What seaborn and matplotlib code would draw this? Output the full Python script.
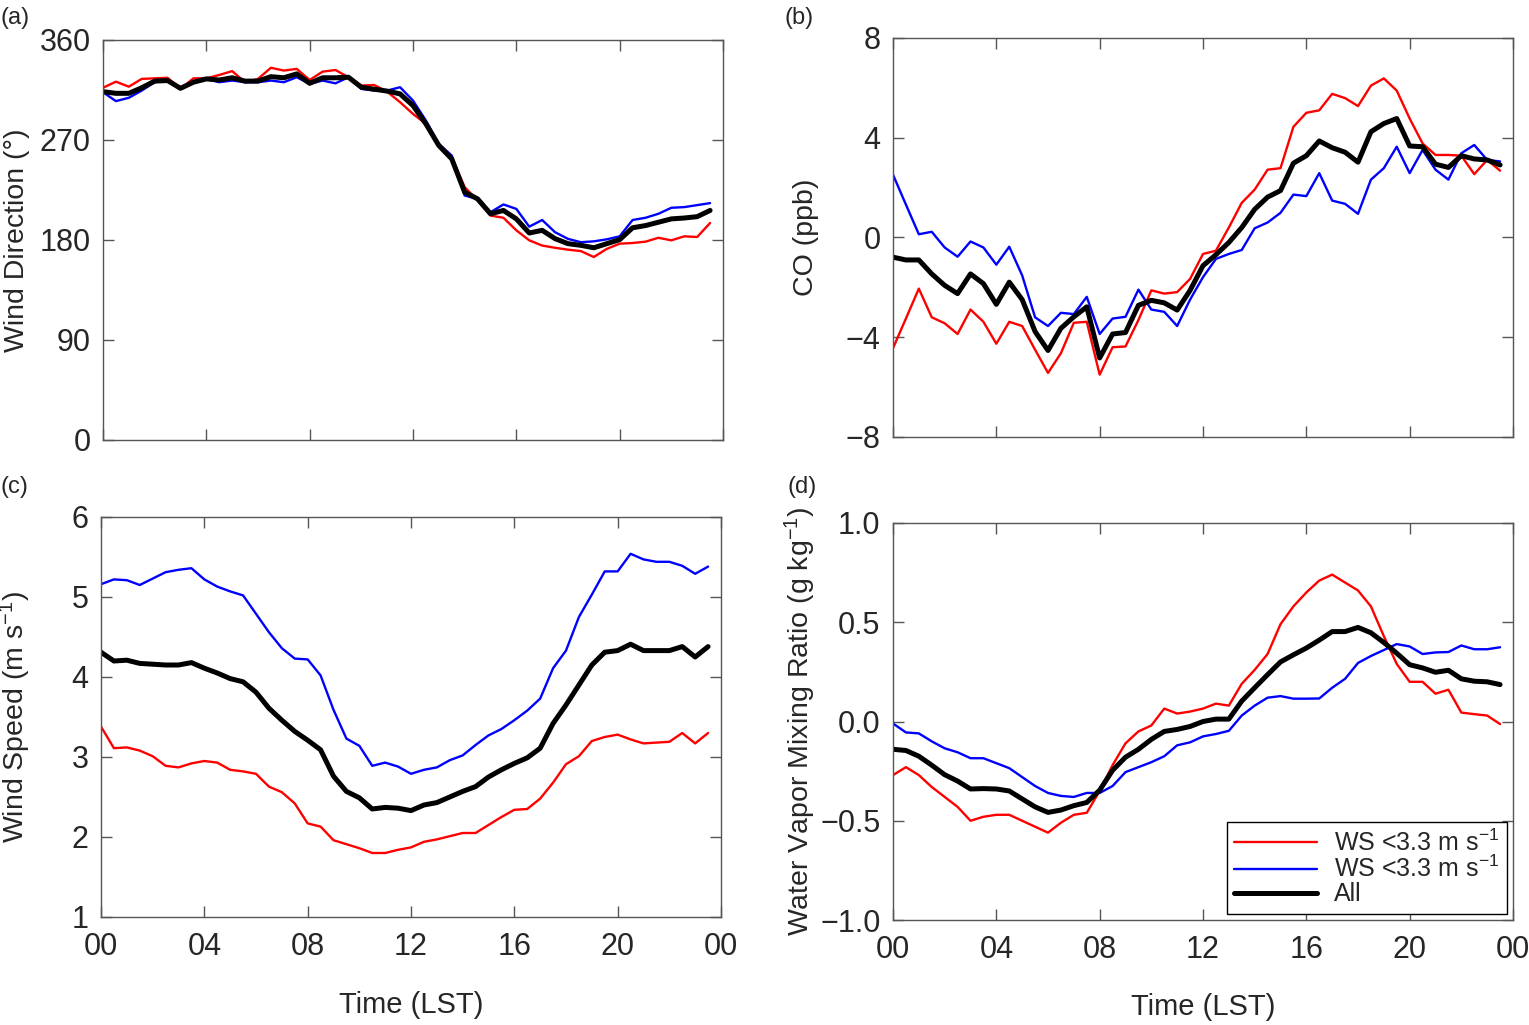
import numpy as np
import pandas as pd
import matplotlib
matplotlib.use('Agg')
import matplotlib.pyplot as plt
import seaborn as sns

# half-hourly time axis (LST)
hours = np.arange(48) * 0.5

# (a) wind direction (deg)
wd_red = [317, 322.5, 318, 325, 325.5, 326, 316, 325.5, 325.5, 328.5, 332, 322,
          325, 335, 332.5, 334, 324, 331.5, 333, 326.5, 319, 319.5, 313.5, 304,
          293.5, 284.5, 266.5, 254.5, 227.6, 215.6, 202, 200, 188.7, 179.7, 175, 173,
          171.3, 170, 164.7, 172, 176.7, 177.3, 178.5, 182, 179.7, 183.3, 182.7, 195.3]
wd_blue = [313, 305, 308, 314.5, 322, 323.5, 316, 322, 325, 322, 323.5, 322,
           322, 323.5, 322, 326.5, 320.5, 323.5, 321, 326.5, 316, 314.5, 314.5, 317.5,
           305.5, 287.5, 266.5, 256, 220, 217, 205, 212, 208, 192, 198, 187,
           181, 178, 178.8, 180.6, 183.3, 198, 200, 203.6, 209, 209.6, 211.4, 213.2]
wd_all = [313.5, 312, 312, 317, 323, 323.5, 316.5, 322, 325, 324, 326, 323,
          323, 327, 326, 329.5, 321, 326, 326, 326.5, 317.5, 315.7, 314, 311.5,
          301, 284.5, 265, 253, 223, 217, 203.6, 206.6, 199, 186.3, 188.7, 181.2,
          176.7, 175.2, 173, 176.7, 180.3, 191, 193, 196, 199, 199.8, 201, 206.6]

# (b) CO anomaly (ppb)
co_red = [-4.44, -3.25, -2.05, -3.2, -3.44, -3.87, -2.89, -3.38, -4.26, -3.38, -3.55, -4.5,
          -5.43, -4.64, -3.42, -3.38, -5.5, -4.4, -4.37, -3.31, -2.12, -2.25, -2.19, -1.66,
          -0.66, -0.53, 0.4, 1.39, 1.92, 2.72, 2.78, 4.44, 5.0, 5.1, 5.76, 5.59,
          5.27, 6.09, 6.38, 5.89, 4.77, 3.77, 3.31, 3.31, 3.28, 2.54, 3.11, 2.68]
co_blue = [2.52, 1.32, 0.13, 0.23, -0.4, -0.77, -0.16, -0.4, -1.09, -0.37, -1.52, -3.2,
           -3.55, -3.02, -3.07, -2.38, -3.87, -3.25, -3.18, -2.09, -2.89, -2.98, -3.55, -2.49,
           -1.59, -0.86, -0.66, -0.5, 0.37, 0.6, 0.99, 1.72, 1.66, 2.58, 1.48, 1.35,
           0.95, 2.32, 2.78, 3.64, 2.58, 3.51, 2.72, 2.32, 3.38, 3.71, 3.11, 3.05]
co_all = [-0.79, -0.9, -0.9, -1.46, -1.92, -2.25, -1.46, -1.85, -2.68, -1.79, -2.49, -3.77,
          -4.53, -3.64, -3.18, -2.78, -4.83, -3.87, -3.81, -2.72, -2.52, -2.62, -2.91, -2.12,
          -1.13, -0.69, -0.2, 0.4, 1.13, 1.62, 1.88, 2.98, 3.28, 3.87, 3.6, 3.42,
          3.02, 4.24, 4.57, 4.77, 3.67, 3.64, 2.94, 2.81, 3.28, 3.15, 3.11, 2.91]

# (c) wind speed (m/s)
ws_red = [3.38, 3.11, 3.12, 3.08, 3.01, 2.89, 2.87, 2.92, 2.95, 2.93, 2.84, 2.82,
          2.79, 2.63, 2.56, 2.42, 2.17, 2.13, 1.96, 1.91, 1.86, 1.8, 1.8, 1.84,
          1.87, 1.94, 1.97, 2.01, 2.05, 2.05, 2.15, 2.25, 2.34, 2.35, 2.48, 2.68,
          2.91, 3.01, 3.2, 3.25, 3.28, 3.22, 3.17, 3.18, 3.19, 3.3, 3.17, 3.3]
ws_blue = [5.16, 5.22, 5.21, 5.15, 5.23, 5.31, 5.34, 5.36, 5.22, 5.13, 5.07, 5.02,
           4.79, 4.56, 4.36, 4.23, 4.22, 4.02, 3.59, 3.23, 3.14, 2.89, 2.93, 2.88,
           2.79, 2.84, 2.87, 2.96, 3.02, 3.15, 3.27, 3.35, 3.46, 3.58, 3.73, 4.11,
           4.33, 4.75, 5.03, 5.32, 5.32, 5.54, 5.47, 5.44, 5.44, 5.39, 5.29, 5.38]
ws_all = [4.31, 4.2, 4.21, 4.17, 4.16, 4.15, 4.15, 4.18, 4.11, 4.05, 3.98, 3.94,
          3.81, 3.61, 3.46, 3.32, 3.21, 3.09, 2.76, 2.57, 2.49, 2.35, 2.37, 2.36,
          2.33, 2.4, 2.43, 2.5, 2.57, 2.63, 2.75, 2.84, 2.92, 2.99, 3.11, 3.42,
          3.65, 3.9, 4.15, 4.31, 4.33, 4.41, 4.33, 4.33, 4.33, 4.38, 4.25, 4.38]

# (d) water vapor mixing ratio anomaly (g/kg)
wv_red = [-0.27, -0.23, -0.27, -0.33, -0.38, -0.43, -0.5, -0.48, -0.47, -0.47, -0.5, -0.53,
          -0.56, -0.51, -0.47, -0.46, -0.35, -0.22, -0.11, -0.05, -0.02, 0.065, 0.04, 0.05,
          0.065, 0.09, 0.08, 0.19, 0.26, 0.34, 0.49, 0.58, 0.65, 0.71, 0.74, 0.70,
          0.66, 0.58, 0.43, 0.29, 0.2, 0.2, 0.14, 0.16, 0.045, 0.037, 0.03, -0.013]
wv_blue = [-0.01, -0.055, -0.06, -0.1, -0.135, -0.155, -0.185, -0.185, -0.21, -0.235, -0.28, -0.325,
           -0.36, -0.375, -0.38, -0.36, -0.36, -0.325, -0.255, -0.23, -0.205, -0.175, -0.12, -0.105,
           -0.075, -0.063, -0.047, 0.03, 0.08, 0.12, 0.128, 0.115, 0.115, 0.116, 0.17, 0.215,
           0.295, 0.33, 0.36, 0.39, 0.378, 0.34, 0.348, 0.35, 0.383, 0.364, 0.364, 0.374]
wv_all = [-0.14, -0.146, -0.175, -0.22, -0.268, -0.3, -0.34, -0.338, -0.34, -0.35, -0.39, -0.43,
          -0.458, -0.446, -0.424, -0.408, -0.346, -0.246, -0.18, -0.14, -0.09, -0.05, -0.04, -0.025,
          0.0, 0.012, 0.012, 0.103, 0.17, 0.236, 0.30, 0.336, 0.37, 0.41, 0.453, 0.453,
          0.474, 0.447, 0.398, 0.344, 0.286, 0.27, 0.248, 0.258, 0.215, 0.203, 0.2, 0.186]

x_ticks = [0, 4, 8, 12, 16, 20, 24]
x_ticklabels = ['00', '04', '08', '12', '16', '20', '00']
legend_labels = ['WS <3.3 m s$^{-1}$', 'WS <3.3 m s$^{-1}$', 'All']

sns.set_style('ticks')
plt.rcParams['font.family'] = ['Liberation Sans', 'DejaVu Sans']
plt.rcParams['mathtext.default'] = 'regular'

fig = plt.figure(figsize=(15.29, 10.25), dpi=100)
W, H = 1529, 1025

def make_ax(l, r, t, b):
    return fig.add_axes([l / W, 1 - b / H, (r - l) / W, (b - t) / H])

ax_a = make_ax(103, 723, 40, 440)
ax_b = make_ax(893, 1513, 38, 437)
ax_c = make_ax(101, 721, 517, 917)
ax_d = make_ax(893, 1513, 523, 920)

panels = [
    (ax_a, wd_red, wd_blue, wd_all, (0, 360), [0, 90, 180, 270, 360], 'Wind Direction (°)', -0.117),
    (ax_b, co_red, co_blue, co_all, (-8, 8), [-8, -4, 0, 4, 8], 'CO (ppb)', -0.12),
    (ax_c, ws_red, ws_blue, ws_all, (1, 6), [1, 2, 3, 4, 5, 6], 'Wind Speed (m s$^{-1}$)', -0.11),
    (ax_d, wv_red, wv_blue, wv_all, (-1, 1), [-1.0, -0.5, 0.0, 0.5, 1.0],
     'Water Vapor Mixing Ratio (g kg$^{-1}$)', -0.121),
]

for i, (ax, red, blue, black, ylim, yticks, ylab, lx) in enumerate(panels):
    sns.lineplot(x=hours, y=red, color='#ff0000', lw=1.7, ax=ax, label=legend_labels[0])
    sns.lineplot(x=hours, y=blue, color='#0000ff', lw=1.7, ax=ax, label=legend_labels[1])
    sns.lineplot(x=hours, y=black, color='black', lw=3.6, ax=ax, label=legend_labels[2])
    ax.set_xlim(0, 24)
    ax.set_ylim(*ylim)
    ax.set_xticks(x_ticks)
    ax.set_yticks(yticks)
    if ax is ax_d:
        ax.set_yticklabels(['\u22121.0', '\u22120.5', '0.0', '0.5', '1.0'])
    ax.tick_params(direction='in', top=True, right=True, length=8, width=1,
                   color='#555555', labelsize=22)
    ax.tick_params(axis='y', pad=9)
    ax.tick_params(axis='x', pad=11)
    for sp in ax.spines.values():
        sp.set_color('#555555')
        sp.set_linewidth(1)
    ax.set_ylabel(ylab, fontsize=20.5)
    ax.yaxis.set_label_coords(lx, 0.5)
    if i >= 2:
        ax.set_xticklabels(x_ticklabels)
        ax.set_xlabel('Time (LST)', fontsize=21)
        ax.xaxis.set_label_coords(0.5, -0.185)
    else:
        ax.set_xticklabels([])
        ax.set_xlabel('')
    if ax is ax_d:
        leg = ax.legend(loc='lower right', fontsize=18, frameon=True, fancybox=False,
                        edgecolor='black', framealpha=1, handlelength=3.3,
                        labelspacing=0.0, borderpad=0.3, handletextpad=0.7,
                        borderaxespad=0.25)
        leg.get_frame().set_linewidth(1)
    else:
        ax.get_legend().remove()

for lab, px, py in [('(a)', 0, 18), ('(b)', 785, 18), ('(c)', 0, 487), ('(d)', 788, 487)]:
    fig.text(px / W, 1 - py / H, lab, fontsize=17, ha='left', va='center')

fig.savefig('out.png', dpi=100)
